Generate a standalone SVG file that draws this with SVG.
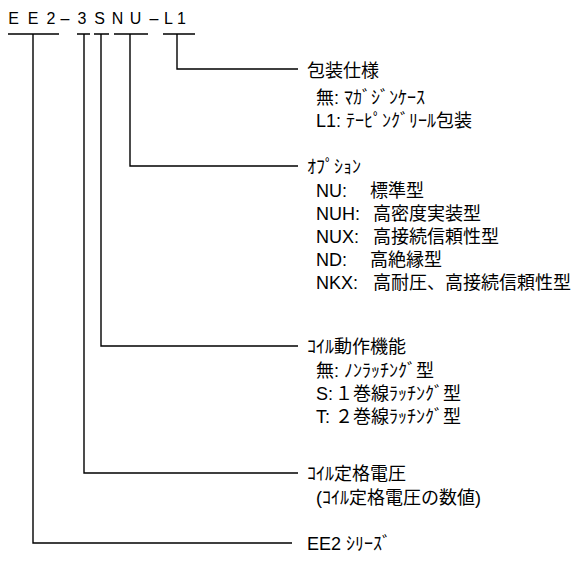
<svg xmlns="http://www.w3.org/2000/svg" width="582" height="574" viewBox="0 0 582 574">
<style>
.t{font-family:"Liberation Sans","Noto Sans CJK JP",sans-serif;font-size:18px;fill:#000}
.c{font-family:"Liberation Sans",sans-serif;font-size:16px;fill:#000;text-anchor:middle}
.ln{stroke:#000;stroke-width:1.4;fill:none}
</style>
<rect width="582" height="574" fill="#fff"/>
<g id="code">
<text class="c" y="24"><tspan x="13.5">E</tspan><tspan x="33">E</tspan><tspan x="51">2</tspan><tspan x="65">–</tspan><tspan x="82">3</tspan><tspan x="99.5">S</tspan><tspan x="117.5">N</tspan><tspan x="135.5">U</tspan><tspan x="154">–</tspan><tspan x="168.5">L</tspan><tspan x="181.5">1</tspan></text>
</g>
<g id="connectors" class="ln">
<path d="M8 34H59M33 34V543H292"/>
<path d="M77 34H90M84 34V473H298"/>
<path d="M94 34H109M101 34V346H298"/>
<path d="M114 34H148M130 34V166H298"/>
<path d="M163 34H195M177 34V69H298"/>
</g>
<g id="packaging">
<text class="t" x="307" y="77">包装仕様</text>
<text class="t" x="316" y="104">無: ﾏｶﾞｼﾞﾝｹｰｽ</text>
<text class="t" x="316" y="127">L1: ﾃｰﾋﾟﾝｸﾞﾘｰﾙ包装</text>
</g>
<g id="option">
<text class="t" x="307" y="173">ｵﾌﾟｼｮﾝ</text>
<text class="t" y="197"><tspan x="316">NU:</tspan><tspan x="370">標準型</tspan></text>
<text class="t" y="220"><tspan x="316">NUH:</tspan><tspan x="373">高密度実装型</tspan></text>
<text class="t" y="243"><tspan x="316">NUX:</tspan><tspan x="373">高接続信頼性型</tspan></text>
<text class="t" y="266"><tspan x="316">ND:</tspan><tspan x="370">高絶縁型</tspan></text>
<text class="t" y="289"><tspan x="316">NKX:</tspan><tspan x="373">高耐圧、高接続信頼性型</tspan></text>
</g>
<g id="coil-function">
<text class="t" x="307" y="353">ｺｲﾙ動作機能</text>
<text class="t" x="316" y="377">無: ﾉﾝﾗｯﾁﾝｸﾞ型</text>
<text class="t" y="400"><tspan x="316">S:</tspan><tspan x="335">１巻線ﾗｯﾁﾝｸﾞ型</tspan></text>
<text class="t" y="423"><tspan x="316">T:</tspan><tspan x="335">２巻線ﾗｯﾁﾝｸﾞ型</tspan></text>
</g>
<g id="coil-voltage">
<text class="t" x="307" y="480">ｺｲﾙ定格電圧</text>
<text class="t" x="316" y="504">(ｺｲﾙ定格電圧の数値)</text>
</g>
<g id="series">
<text class="t" x="307" y="550">EE2 ｼﾘｰｽﾞ</text>
</g>
</svg>
